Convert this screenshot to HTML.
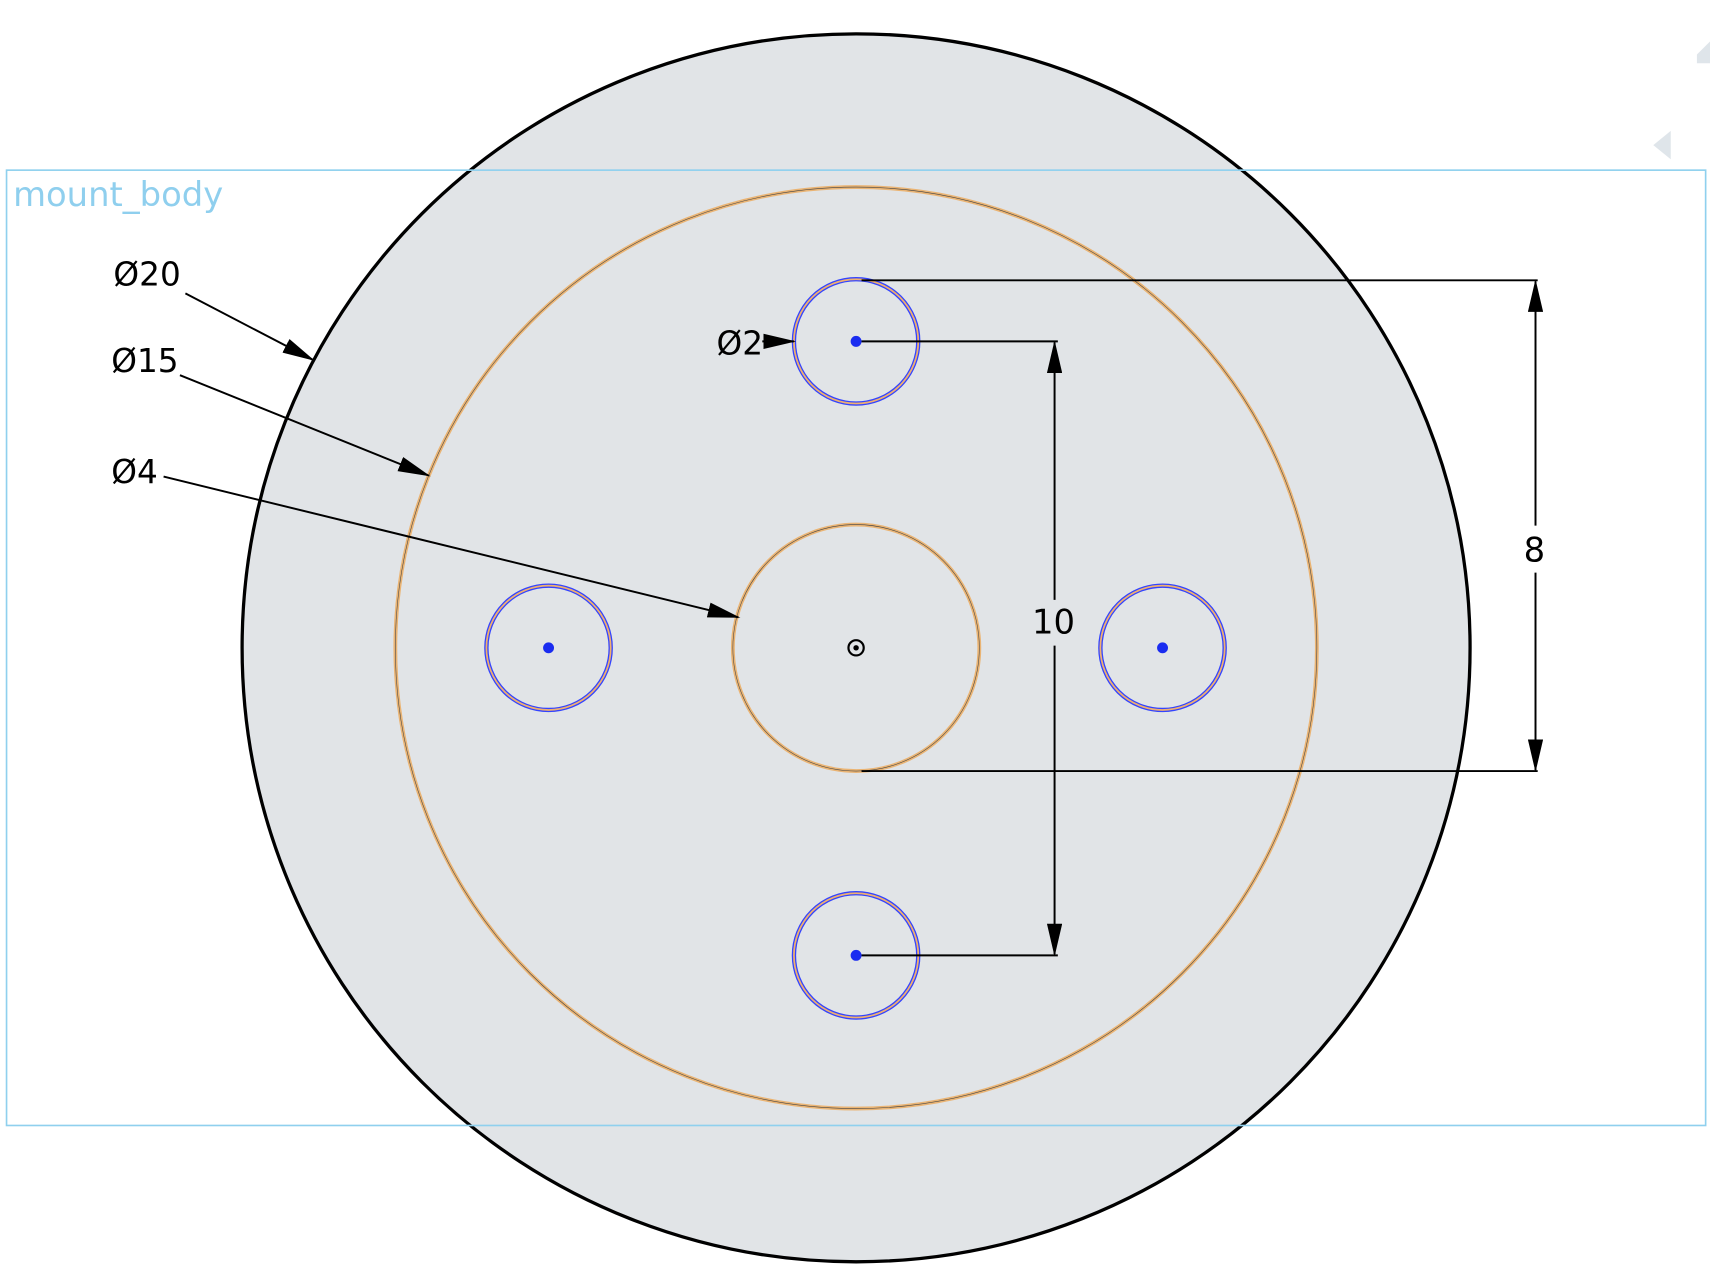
<!DOCTYPE html>
<html><head><meta charset="utf-8"><style>
html,body{margin:0;padding:0;background:#fff;width:1710px;height:1282px;overflow:hidden}
svg{display:block}
text{font-family:"DejaVu Sans","Liberation Sans",sans-serif}
</style></head><body>
<svg width="1710" height="1282" viewBox="0 0 1568 1175.5">
<defs>
<marker id="ah" markerWidth="30" markerHeight="14" refX="28" refY="7" orient="auto" markerUnits="userSpaceOnUse"><path d="M0,0 L30,7 L0,14 Z" fill="#000"/></marker>
</defs>
<circle cx="785" cy="594" r="563" fill="#e1e4e7" stroke="#000" stroke-width="3"/>
<rect x="6" y="156" width="1558" height="876" fill="none" stroke="#8fd0ee" stroke-width="1.5"/>
<text x="12" y="189" font-size="31" fill="#8fcfee">mount_body</text>
<circle cx="785" cy="594" r="422.5" fill="none" stroke="#eab474" stroke-width="3.5"/>
<circle cx="785" cy="594" r="422.5" fill="none" stroke="#444" stroke-width="0.5"/>
<circle cx="785" cy="594" r="113" fill="none" stroke="#eab474" stroke-width="3.5"/>
<circle cx="785" cy="594" r="113" fill="none" stroke="#444" stroke-width="0.5"/>
<g><circle cx="785" cy="313" r="57" fill="none" stroke="#3344ff" stroke-width="4"/><circle cx="785" cy="313" r="57" fill="none" stroke="#f0b070" stroke-width="1.6"/><circle cx="785" cy="313" r="5" fill="#1a2cf0"/></g>
<g><circle cx="503" cy="594" r="57" fill="none" stroke="#3344ff" stroke-width="4"/><circle cx="503" cy="594" r="57" fill="none" stroke="#f0b070" stroke-width="1.6"/><circle cx="503" cy="594" r="5" fill="#1a2cf0"/></g>
<g><circle cx="1066" cy="594" r="57" fill="none" stroke="#3344ff" stroke-width="4"/><circle cx="1066" cy="594" r="57" fill="none" stroke="#f0b070" stroke-width="1.6"/><circle cx="1066" cy="594" r="5" fill="#1a2cf0"/></g>
<g><circle cx="785" cy="876" r="57" fill="none" stroke="#3344ff" stroke-width="4"/><circle cx="785" cy="876" r="57" fill="none" stroke="#f0b070" stroke-width="1.6"/><circle cx="785" cy="876" r="5" fill="#1a2cf0"/></g>
<g><circle cx="785" cy="594" r="7" fill="none" stroke="#000" stroke-width="2"/><circle cx="785" cy="594" r="2.5" fill="#000"/></g>
<g stroke="#000" stroke-width="1.8" fill="none">
<line x1="790" y1="313" x2="970" y2="313"/><line x1="790" y1="876" x2="970" y2="876"/>
<line x1="967" y1="550" x2="967" y2="314" marker-end="url(#ah)"/>
<line x1="967" y1="592" x2="967" y2="875" marker-end="url(#ah)"/>
</g>
<text x="966" y="581" font-size="31" text-anchor="middle" fill="#000">10</text>
<g stroke="#000" stroke-width="1.8" fill="none">
<line x1="790" y1="257" x2="1410" y2="257"/><line x1="790" y1="707" x2="1410" y2="707"/>
<line x1="1408" y1="482" x2="1408" y2="258" marker-end="url(#ah)"/>
<line x1="1408" y1="525" x2="1408" y2="706" marker-end="url(#ah)"/>
</g>
<text x="1407" y="515" font-size="31" text-anchor="middle" fill="#000">8</text>
<g stroke="#000" stroke-width="1.8" fill="none">
<line x1="170" y1="269" x2="287" y2="330" marker-end="url(#ah)"/>
<line x1="165" y1="344" x2="393" y2="436" marker-end="url(#ah)"/>
<line x1="150" y1="437" x2="677" y2="566" marker-end="url(#ah)"/>
<line x1="699" y1="313" x2="728" y2="313" marker-end="url(#ah)"/>
</g>
<text x="104" y="262" font-size="30" fill="#000">Ø20</text>
<text x="102" y="341" font-size="30" fill="#000">Ø15</text>
<text x="102" y="443" font-size="30" fill="#000">Ø4</text>
<text x="657" y="325" font-size="30" fill="#000">Ø2</text>
<path d="M1532,120 L1516,133 L1532,146 Z" fill="#dfe5ea"/>
<path d="M1568,38 L1556,50 L1556,58 L1568,58 Z" fill="#dfe5ea"/>
</svg>
</body></html>
